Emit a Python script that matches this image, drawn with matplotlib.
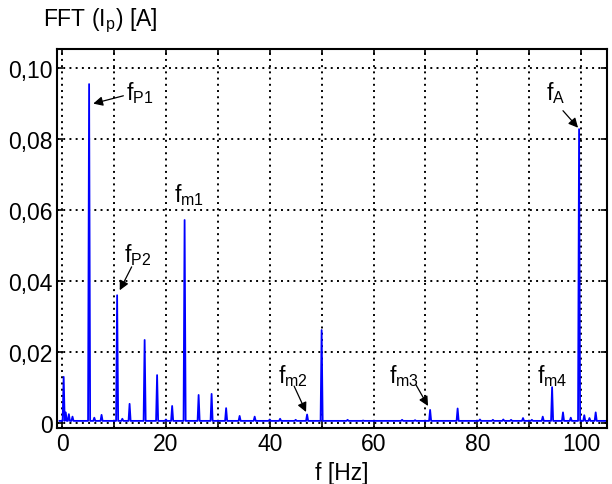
import matplotlib.pyplot as plt
from matplotlib.ticker import FixedLocator, FuncFormatter

plt.rcParams['font.family'] = ['Liberation Sans', 'DejaVu Sans']

# spectrum: peak frequency [Hz] and amplitude [A]
peak_f = [0.3, 0.7, 1.3, 2.0, 5.2, 6.2, 7.6, 10.6, 11.6, 13.0, 15.9, 18.3, 20.0, 21.2,
          23.6, 26.3, 28.8, 31.6, 34.2, 37.1, 40.0, 42.0, 45.0, 47.2, 50.0, 55.0,
          58.0, 65.5, 68.0, 70.9, 76.2, 80.5, 83.0, 85.0, 86.5, 88.8, 90.5,
          92.6, 94.4, 96.5, 98.0, 99.6, 100.6, 101.6, 102.8]
peak_a = [0.0130, 0.0030, 0.0025, 0.0018, 0.0955, 0.0015, 0.0023, 0.0360, 0.0012, 0.0054,
          0.0234, 0.0135, 0.0010, 0.0048, 0.0572, 0.0079, 0.0082, 0.0042, 0.0020,
          0.0018, 0.0010, 0.0012, 0.0009, 0.0024, 0.0262, 0.0009, 0.0007, 0.0009,
          0.0008, 0.0037, 0.0041, 0.0010, 0.0009, 0.0010, 0.0009, 0.0014, 0.0009,
          0.0018, 0.0101, 0.0030, 0.0015, 0.0828, 0.0022, 0.0014, 0.0030]
base_level = 0.0006
peak_width = 0.2

# annotations: label, text position, arrow tip (None = no arrow)
labels = ['f$_{\\mathregular{P1}}$', 'f$_{\\mathregular{P2}}$', 'f$_{\\mathregular{m1}}$',
          'f$_{\\mathregular{m2}}$', 'f$_{\\mathregular{m3}}$', 'f$_{\\mathregular{m4}}$',
          'f$_{\\mathregular{A}}$']
text_xy = [(12.3, 0.0895), (11.9, 0.0440), (21.6, 0.0610), (41.6, 0.0098),
           (63.0, 0.0098), (91.5, 0.0098), (93.2, 0.0895)]
tip_xy = [(6.0, 0.0900), (11.1, 0.0374), None, (47.0, 0.0031),
          (70.5, 0.0048), None, (99.4, 0.0832)]
tail_xy = [(11.8, 0.0922), (13.4, 0.0440), None, (44.7, 0.0104),
           (68.2, 0.0107), None, (96.5, 0.0880)]

# build the line: baseline between narrow peaks
fx, fy = [-0.5, 0.0], [base_level, base_level]
for f, a in zip(peak_f, peak_a):
    fx += [f - peak_width, f, f + peak_width]
    fy += [base_level, a, base_level]
fx.append(105)
fy.append(base_level)

fig = plt.figure(figsize=(6.12, 4.85), dpi=100)
ax = fig.add_axes([0.093, 0.1155, 0.899, 0.7815])
ax.plot(fx, fy, color='#0000ff', lw=1.3)

ax.set_xlim(-1, 105)
ax.set_ylim(-0.0014, 0.1054)
ax.xaxis.set_major_locator(FixedLocator([0, 20, 40, 60, 80, 100]))
ax.xaxis.set_minor_locator(FixedLocator([10, 30, 50, 70, 90]))
ax.yaxis.set_major_locator(FixedLocator([0, 0.02, 0.04, 0.06, 0.08, 0.10]))
ax.yaxis.set_major_formatter(FuncFormatter(
    lambda v, p: '0' if v == 0 else f'{v:.2f}'.replace('.', ',')))
ax.grid(True, which='both', color='black', lw=1.4, linestyle=(0, (1, 2.2)))
ax.tick_params(which='both', direction='in', length=4, width=1.2,
               top=True, right=True, labelsize=16.5, pad=3)
for s in ax.spines.values():
    s.set_linewidth(1.5)

for lab, txy, tip, tail in zip(labels, text_xy, tip_xy, tail_xy):
    ax.text(txy[0], txy[1], lab, fontsize=16.5, ha='left', va='bottom')
    if tip is not None:
        ax.annotate('', xy=tip, xytext=tail,
                    arrowprops=dict(arrowstyle='-|>', color='black', lw=0.9,
                                    mutation_scale=14, shrinkA=0, shrinkB=0))

fig.text(0.070, 0.957, 'FFT (I$_{\\mathregular{p}}$) [A]', fontsize=16.5, ha='left', va='center')
fig.text(0.558, 0.024, 'f [Hz]', fontsize=16.5, ha='center', va='center')

fig.savefig('out.png', dpi=100)
